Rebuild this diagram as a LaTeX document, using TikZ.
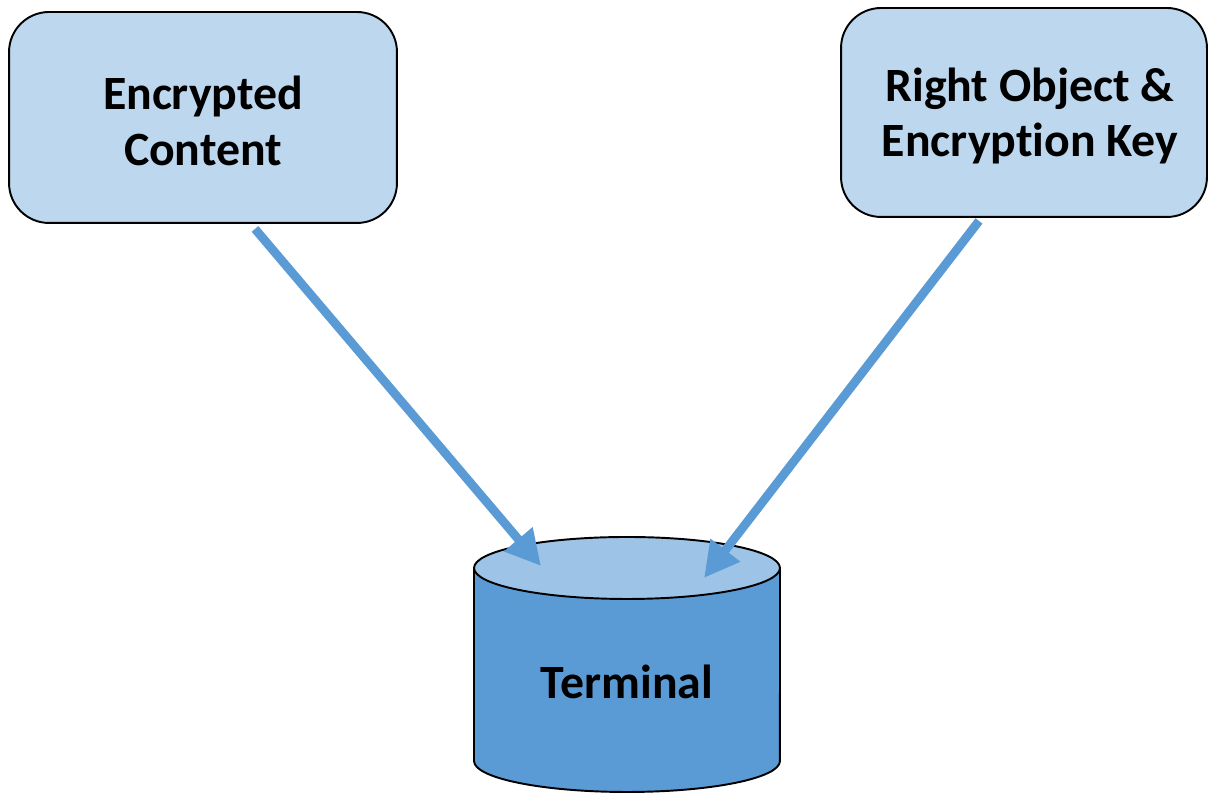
\documentclass[tikz,border=0pt]{standalone}
\usepackage{fontspec}
\setmainfont[Ligatures=NoCommon]{Carlito}
\usetikzlibrary{arrows.meta,calc}
\definecolor{boxfill}{HTML}{BDD7EE}
\definecolor{cylbody}{HTML}{5B9BD5}
\definecolor{cyltop}{HTML}{9DC3E6}
\definecolor{arrowblue}{HTML}{5B9BD5}
\tikzset{
  infobox/.style={draw=black, line width=1.1pt, fill=boxfill, rounded corners=0.8cm,
    inner sep=0pt},
  boxtext/.style={align=center, font=\bfseries\fontsize{27.2}{31.7}\selectfont,
    inner sep=0pt},
  flow/.style={draw=arrowblue, line width=5pt,
    -{Triangle[length=20pt,width=20pt]}},
  cylline/.style={draw=black, line width=1.1pt}
}
\begin{document}
\begin{tikzpicture}[x=0.02cm,y=0.02cm]
\useasboundingbox (0,0) rectangle (1208,793);

% source boxes
\node[infobox, minimum width=7.76cm, minimum height=4.22cm] (enc) at (203,675.5) {};
\node[boxtext] (enctext) at (203,672) {Encrypted\\Content};
\node[infobox, minimum width=7.32cm, minimum height=4.18cm] (key) at (1024,680.5) {};
\node[boxtext] (keytext) at (1030,677) {Right Object \&\\Encryption Key};

% terminal cylinder
\coordinate (cyltopc) at (627,225);
\coordinate (cylbotc) at (627,32);
\path[fill=cylbody, cylline] (474,225) -- (474,32) arc[start angle=180, end angle=360,
  x radius=3.06cm, y radius=0.62cm] -- (780,225) -- cycle;
\path[fill=cyltop, cylline] (cyltopc) ellipse[x radius=3.06cm, y radius=0.62cm];
\node[boxtext] (term) at (627,111) {Terminal};

% flows into the terminal
\draw[flow] ($(enc.south)+(52,-5)$) -- ($(cyltopc)+(-86,2)$);
\draw[flow] ($(key.south)+(-45,-3)$) -- ($(cyltopc)+(77,-10)$);
\end{tikzpicture}
\end{document}
